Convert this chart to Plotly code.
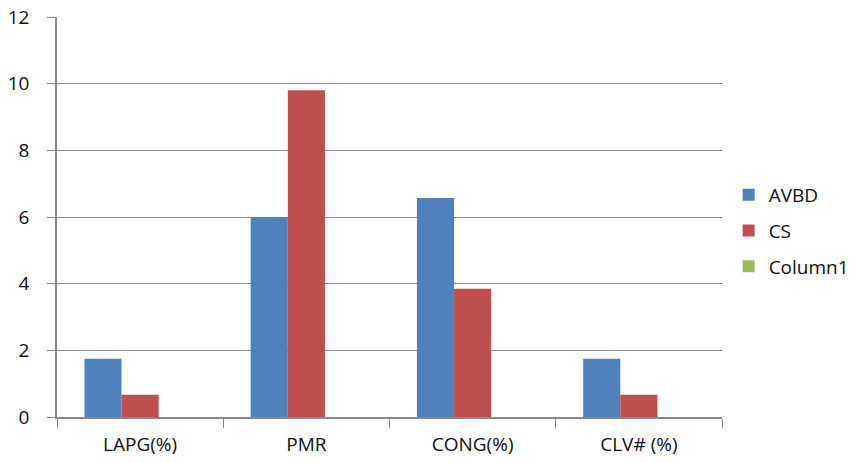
import plotly.graph_objects as go

categories = ["LAPG(%)", "PMR", "CONG(%)", "CLV# (%)"]
avbd = [1.75, 6.0, 6.57, 1.75]
cs = [0.67, 9.8, 3.85, 0.67]
column1 = [0, 0, 0, 0]
y_ticks = [0, 2, 4, 6, 8, 10, 12]

fig = go.Figure()
series = [("AVBD", avbd, "#4F81BD"), ("CS", cs, "#C0504D"), ("Column1", column1, "#9BBB59")]
for name, vals, col in series:
    fig.add_trace(go.Bar(x=categories, y=vals, name=name, legendgroup=name,
                         marker=dict(color=col, line=dict(width=0))))

grid = "#888888"
fig.update_layout(
    width=856, height=463,
    margin=dict(l=57, r=134, t=17, b=46, autoexpand=False),
    paper_bgcolor="white", plot_bgcolor="white",
    barmode="group", bargap=0.33, bargroupgap=0,
    font=dict(family="Open Sans, Liberation Sans, sans-serif", size=19, color="#111111"),
    legend=dict(x=1.01, xanchor="left", y=0.465, yanchor="middle",
                traceorder="grouped", tracegroupgap=8,
                font=dict(size=19), itemwidth=30),
    showlegend=True,
)
fig.update_yaxes(range=[0, 12], tickvals=y_ticks, showgrid=True, gridcolor=grid, gridwidth=1,
                 showline=True, linecolor=grid, linewidth=1.5, ticks="outside", ticklen=8,
                 tickcolor=grid, zeroline=False, ticklabelstandoff=14, automargin=False)
fig.update_xaxes(showline=True, linecolor=grid, linewidth=1.5, ticks="outside", ticklen=9,
                 tickcolor=grid, tickson="boundaries", showgrid=False, ticklabelstandoff=9,
                 automargin=False)

fig.write_html("out.html")
